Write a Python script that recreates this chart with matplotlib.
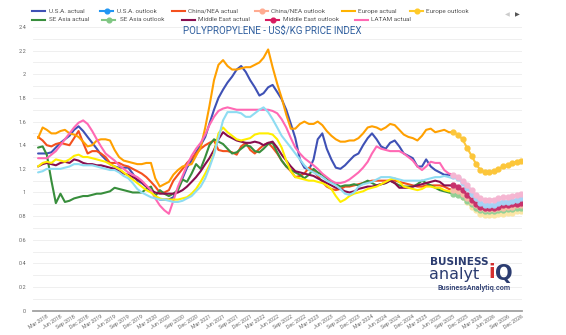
import matplotlib
matplotlib.use("Agg")
import matplotlib.pyplot as plt
from matplotlib.lines import Line2D
import numpy as np
import pandas as pd

# ---------------------------------------------------------------- data
actual_months = pd.date_range("2018-01-01", "2025-09-01", freq="MS")
outlook_months = pd.date_range("2025-09-01", "2026-12-01", freq="MS")
tick_months = pd.date_range("2018-03-01", "2026-12-01", freq="3MS")
tick_labels = [d.strftime("%b %Y") for d in tick_months]

usa_actual = [
    1.33, 1.33, 1.33, 1.34, 1.38, 1.42, 1.45, 1.48, 1.53, 1.56,
    1.52, 1.47, 1.42, 1.37, 1.32, 1.28, 1.24, 1.22, 1.21, 1.21,
    1.21, 1.16, 1.10, 1.08, 1.05, 1.01, 0.97, 0.94, 0.94, 0.94,
    0.96, 1.03, 1.12, 1.21, 1.27, 1.34, 1.40, 1.47, 1.58, 1.70,
    1.80, 1.87, 1.93, 1.98, 2.04, 2.07, 2.02, 1.95, 1.89, 1.82,
    1.84, 1.89, 1.91, 1.85, 1.79, 1.70, 1.58, 1.46, 1.28, 1.21,
    1.19, 1.28, 1.45, 1.50, 1.37, 1.28, 1.21, 1.20, 1.23, 1.27,
    1.31, 1.33, 1.40, 1.46, 1.50, 1.45, 1.39, 1.37, 1.42, 1.44,
    1.39, 1.33, 1.31, 1.29, 1.22, 1.22, 1.28, 1.22, 1.19, 1.17,
    1.15, 1.15, 1.14]
china_actual = [
    1.47, 1.44, 1.40, 1.39, 1.41, 1.42, 1.41, 1.40, 1.46, 1.52,
    1.42, 1.33, 1.35, 1.35, 1.33, 1.30, 1.25, 1.25, 1.25, 1.23,
    1.22, 1.20, 1.18, 1.16, 1.13, 1.09, 1.05, 1.00, 1.00, 1.02,
    1.10, 1.15, 1.20, 1.25, 1.29, 1.33, 1.37, 1.40, 1.42, 1.44,
    1.36, 1.35, 1.35, 1.34, 1.32, 1.39, 1.42, 1.36, 1.33, 1.37,
    1.40, 1.42, 1.38, 1.33, 1.27, 1.22, 1.18, 1.13, 1.14, 1.16,
    1.21, 1.18, 1.14, 1.09, 1.05, 1.03, 1.02, 1.03, 1.05, 1.05,
    1.06, 1.07, 1.08, 1.09, 1.10, 1.10, 1.10, 1.10, 1.10, 1.10,
    1.09, 1.08, 1.07, 1.06, 1.05, 1.05, 1.06, 1.06, 1.06, 1.06,
    1.05, 1.03, 1.02]
europe_actual = [
    1.46, 1.55, 1.53, 1.50, 1.50, 1.52, 1.53, 1.50, 1.49, 1.47,
    1.43, 1.39, 1.40, 1.44, 1.45, 1.45, 1.44, 1.36, 1.30, 1.27,
    1.26, 1.25, 1.24, 1.24, 1.25, 1.25, 1.12, 1.05, 1.07, 1.09,
    1.15, 1.19, 1.22, 1.23, 1.24, 1.31, 1.38, 1.55, 1.73, 1.95,
    2.08, 2.12, 2.07, 2.04, 2.04, 2.05, 2.06, 2.06, 2.08, 2.10,
    2.14, 2.21, 2.06, 1.92, 1.80, 1.66, 1.54, 1.54, 1.58, 1.60,
    1.58, 1.58, 1.60, 1.57, 1.52, 1.48, 1.45, 1.43, 1.43, 1.44,
    1.44, 1.46, 1.50, 1.55, 1.56, 1.55, 1.53, 1.55, 1.58, 1.57,
    1.53, 1.49, 1.47, 1.46, 1.44, 1.48, 1.53, 1.54, 1.51, 1.52,
    1.53, 1.51, 1.51]
se_asia_actual = [
    1.38, 1.39, 1.32, 1.10, 0.91, 0.99, 0.92, 0.93, 0.95, 0.96,
    0.97, 0.97, 0.98, 0.99, 0.99, 1.00, 1.01, 1.04, 1.03, 1.02,
    1.01, 1.00, 1.00, 1.00, 1.03, 1.05, 0.97, 1.02, 0.99, 0.97,
    0.99, 1.02, 1.11, 1.09, 1.16, 1.24, 1.20, 1.30, 1.40, 1.45,
    1.43, 1.41, 1.37, 1.33, 1.34, 1.37, 1.40, 1.39, 1.35, 1.34,
    1.37, 1.41, 1.42, 1.34, 1.27, 1.22, 1.19, 1.17, 1.15, 1.12,
    1.15, 1.20, 1.17, 1.15, 1.12, 1.09, 1.07, 1.05, 1.06, 1.06,
    1.07, 1.06, 1.08, 1.10, 1.08, 1.06, 1.07, 1.08, 1.10, 1.08,
    1.06, 1.05, 1.05, 1.05, 1.07, 1.10, 1.08, 1.06, 1.04, 1.02,
    1.01, 1.00, 0.99]
middle_east_actual = [
    1.22, 1.24, 1.25, 1.24, 1.23, 1.25, 1.26, 1.25, 1.28, 1.27,
    1.25, 1.24, 1.24, 1.23, 1.23, 1.22, 1.21, 1.20, 1.18, 1.16,
    1.15, 1.13, 1.11, 1.09, 1.05, 1.02, 1.00, 0.99, 0.99, 0.99,
    0.99, 1.00, 1.02, 1.05, 1.09, 1.13, 1.18, 1.24, 1.29, 1.36,
    1.45, 1.51, 1.48, 1.46, 1.44, 1.43, 1.42, 1.42, 1.43, 1.42,
    1.40, 1.42, 1.43, 1.38, 1.32, 1.27, 1.22, 1.18, 1.17, 1.16,
    1.15, 1.14, 1.12, 1.10, 1.08, 1.06, 1.04, 1.03, 1.01, 1.00,
    1.01, 1.03, 1.04, 1.05, 1.05, 1.06, 1.07, 1.08, 1.10, 1.08,
    1.04, 1.04, 1.04, 1.05, 1.06, 1.07, 1.08, 1.09, 1.10, 1.09,
    1.06, 1.06, 1.06]
latam_actual = [
    1.29, 1.29, 1.29, 1.32, 1.35, 1.40, 1.45, 1.50, 1.55, 1.59,
    1.61, 1.58, 1.52, 1.45, 1.39, 1.33, 1.30, 1.27, 1.23, 1.20,
    1.17, 1.15, 1.13, 1.10, 1.06, 1.02, 0.95, 0.89, 0.85, 0.82,
    0.93, 1.05, 1.14, 1.23, 1.31, 1.37, 1.42, 1.49, 1.57, 1.64,
    1.69, 1.71, 1.72, 1.71, 1.70, 1.70, 1.70, 1.70, 1.70, 1.70,
    1.70, 1.70, 1.69, 1.67, 1.62, 1.55, 1.46, 1.38, 1.33, 1.29,
    1.26, 1.23, 1.20, 1.16, 1.13, 1.10, 1.08, 1.08, 1.09, 1.11,
    1.14, 1.17, 1.21, 1.26, 1.33, 1.39, 1.37, 1.36, 1.35, 1.35,
    1.35, 1.33, 1.30, 1.27, 1.22, 1.19, 1.22, 1.26, 1.25, 1.25,
    1.19, 1.16, 1.15]
region7_actual = [
    1.22, 1.25, 1.26, 1.25, 1.28, 1.27, 1.26, 1.28, 1.31, 1.32,
    1.30, 1.30, 1.29, 1.28, 1.27, 1.26, 1.24, 1.22, 1.20, 1.17,
    1.14, 1.11, 1.08, 1.05, 1.02, 1.00, 0.97, 0.95, 0.94, 0.94,
    0.94, 0.94, 0.95, 0.96, 0.99, 1.03, 1.09, 1.16, 1.23, 1.33,
    1.50, 1.55, 1.51, 1.48, 1.45, 1.44, 1.45, 1.46, 1.49, 1.50,
    1.50, 1.50, 1.49, 1.45, 1.38, 1.27, 1.18, 1.13, 1.12, 1.11,
    1.10, 1.10, 1.09, 1.08, 1.06, 1.03, 0.97, 0.92, 0.94, 0.97,
    0.99, 1.00, 1.01, 1.03, 1.04, 1.05, 1.07, 1.09, 1.11, 1.12,
    1.09, 1.05, 1.04, 1.03, 1.02, 1.03, 1.05, 1.05, 1.04, 1.04,
    1.02, 1.01, 1.01]
region8_actual = [
    1.17, 1.18, 1.20, 1.20, 1.20, 1.20, 1.21, 1.22, 1.24, 1.24,
    1.23, 1.23, 1.23, 1.22, 1.21, 1.20, 1.19, 1.19, 1.17, 1.14,
    1.12, 1.08, 1.03, 1.00, 0.98, 0.96, 0.95, 0.94, 0.94, 0.93,
    0.92, 0.92, 0.93, 0.95, 0.97, 1.01, 1.05, 1.12, 1.21, 1.32,
    1.46, 1.61, 1.68, 1.68, 1.68, 1.67, 1.64, 1.64, 1.67, 1.70,
    1.72, 1.68, 1.62, 1.55, 1.48, 1.43, 1.38, 1.33, 1.28, 1.23,
    1.19, 1.17, 1.15, 1.13, 1.10, 1.08, 1.06, 1.03, 0.99, 0.98,
    1.00, 1.05, 1.07, 1.08, 1.09, 1.11, 1.13, 1.13, 1.13, 1.12,
    1.11, 1.10, 1.10, 1.10, 1.10, 1.10, 1.11, 1.12, 1.13, 1.13,
    1.14, 1.13, 1.12]

usa_outlook = [1.14, 1.12, 1.08, 1.04, 0.99, 0.95, 0.91, 0.89, 0.89, 0.89,
               0.91, 0.92, 0.92, 0.93, 0.94, 0.95]
china_outlook = [1.02, 1.01, 0.99, 0.95, 0.92, 0.89, 0.87, 0.86, 0.86, 0.86,
                 0.87, 0.87, 0.88, 0.88, 0.89, 0.89]
europe_outlook = [1.51, 1.49, 1.45, 1.38, 1.31, 1.24, 1.19, 1.17, 1.17, 1.18,
                  1.20, 1.22, 1.23, 1.25, 1.26, 1.27]
se_asia_outlook = [0.99, 0.98, 0.96, 0.93, 0.90, 0.87, 0.85, 0.84, 0.84, 0.84,
                   0.85, 0.85, 0.86, 0.86, 0.87, 0.87]
middle_east_outlook = [1.06, 1.05, 1.02, 0.98, 0.94, 0.90, 0.88, 0.87, 0.87, 0.87,
                       0.88, 0.89, 0.89, 0.90, 0.90, 0.91]
latam_outlook = [1.15, 1.13, 1.10, 1.06, 1.02, 0.98, 0.95, 0.94, 0.94, 0.94,
                 0.95, 0.96, 0.96, 0.97, 0.98, 0.99]
region7_outlook = [1.01, 0.99, 0.96, 0.92, 0.88, 0.85, 0.82, 0.81, 0.81, 0.81,
                   0.82, 0.82, 0.83, 0.83, 0.84, 0.84]

# ---------------------------------------------------------------- figure
W, H = 566, 335
fig = plt.figure(figsize=(W / 100, H / 100), dpi=100)
fig.patch.set_facecolor("white")
plt.rcParams["font.family"] = ["Roboto", "DejaVu Sans"]


def fx(x):
    return x / W


def fy(y):
    return 1 - y / H


ax = fig.add_axes([fx(33), fy(310.7), fx(522) - fx(33), fy(27) - fy(310.7)])
ax.set_facecolor("white")

LW = 1.5
actual_series = [
    (usa_actual, "#3f51b5"),
    (china_actual, "#f4511e"),
    (europe_actual, "#ffa000"),
    (se_asia_actual, "#388e3c"),
    (middle_east_actual, "#880e4f"),
    (latam_actual, "#ff69b4"),
    (region7_actual, "#ffee00"),
    (region8_actual, "#8edcf2"),
]
outlook_series = [
    (region7_outlook, "#fbe6a6"),
    (se_asia_outlook, "#93d096"),
    (china_outlook, "#f7bca6"),
    (middle_east_outlook, "#c8326c"),
    (usa_outlook, "#a6d2f5"),
    (latam_outlook, "#f5b6d2"),
    (europe_outlook, "#fcc63a"),
]

for vals, col in actual_series:
    ax.plot(actual_months, vals, color=col, lw=LW, solid_capstyle="round",
            solid_joinstyle="round", zorder=3)
for vals, col in outlook_series:
    ax.plot(outlook_months, vals, color=col, lw=LW, marker="o", ms=3.5,
            mec=col, mfc=col, zorder=4)

ax.set_ylim(0, 2.4)
ax.set_xlim(pd.Timestamp("2017-11-28"), pd.Timestamp("2026-12-07"))
major = np.round(np.arange(0, 2.41, 0.2), 1)
ax.set_yticks(major)
ax.set_yticklabels([f"{v:g}" for v in major])
ax.set_yticks(np.round(np.arange(0.1, 2.4, 0.2), 1), minor=True)
ax.grid(axis="y", which="both", color="#ececec", lw=0.6, zorder=0)
ax.tick_params(axis="y", which="both", length=0, pad=5, labelsize=4,
               labelcolor="#666666")

ax.set_xticks(tick_months)
ax.set_xticklabels(tick_labels, rotation=32, ha="right",
                   rotation_mode="anchor", fontsize=3.8, color="#666666")
ax.tick_params(axis="x", length=0, pad=2.5)

for s in ("top", "left", "right"):
    ax.spines[s].set_visible(False)
ax.spines["bottom"].set_color("#a0a0a0")
ax.spines["bottom"].set_linewidth(1.3)

# ---------------------------------------------------------------- title
fig.text(fx(272), fy(31), "POLYPROPYLENE - US$/KG PRICE INDEX",
         ha="center", va="center", fontsize=7.0, color="#2f5e9e")

# ---------------------------------------------------------------- legend
legend_rows = [
    (11.3, [(32, 49, "U.S.A. actual", "#3f51b5", False),
            (100, 117, "U.S.A. outlook", "#2196f3", True),
            (172, 188, "China/NEA actual", "#f4511e", False),
            (255, 271, "China/NEA outlook", "#ffab91", True),
            (342, 358, "Europe actual", "#ffb300", False),
            (410, 426, "Europe outlook", "#ffca28", True)]),
    (19.5, [(32, 49, "SE Asia actual", "#388e3c", False),
            (102, 120, "SE Asia outlook", "#81c784", True),
            (182, 198, "Middle East actual", "#880e4f", False),
            (266, 283, "Middle East outlook", "#d81b60", True),
            (355, 371, "LATAM actual", "#ff69b4", False)]),
]
for y, items in legend_rows:
    for hx, tx, label, col, dot in items:
        fig.add_artist(Line2D([fx(hx), fx(hx + 13)], [fy(y), fy(y)],
                              color=col, lw=1.5, transform=fig.transFigure))
        if dot:
            fig.add_artist(Line2D([fx(hx + 6.5)], [fy(y)], marker="o", ms=3.4,
                                  color=col, transform=fig.transFigure))
        fig.text(fx(tx), fy(y), label, ha="left", va="center",
                 fontsize=4.6, color="#555555")

# pager arrows
fig.text(fx(507.5), fy(15), "\u25C0", ha="center", va="center",
         fontsize=4.5, color="#cccccc", family="DejaVu Sans")
fig.text(fx(517), fy(15), "\u25B6", ha="center", va="center",
         fontsize=4.5, color="#555555", family="DejaVu Sans")

# ---------------------------------------------------------------- logo
navy = "#2b3c70"
fig.text(fx(430), fy(265), "BUSINESS", ha="left", va="baseline",
         fontsize=7.6, fontweight="bold", color=navy, family="DejaVu Sans")
fig.text(fx(429), fy(278.5), "analyt", ha="left", va="baseline",
         fontsize=11.5, color=navy, family="DejaVu Sans")
fig.text(fx(488.5), fy(278.5), "i", ha="left", va="baseline",
         fontsize=14, fontweight="bold", color="#d32f2f", family="DejaVu Sans")
fig.text(fx(495), fy(280), "Q", ha="left", va="baseline",
         fontsize=15, fontweight="bold", color=navy, family="DejaVu Sans")
fig.text(fx(474), fy(288.5), "BusinessAnalytiq.com", ha="center", va="center",
         fontsize=5.2, fontweight="bold", color="#3b4a7a")

fig.savefig("out.png", dpi=100, facecolor="white")
